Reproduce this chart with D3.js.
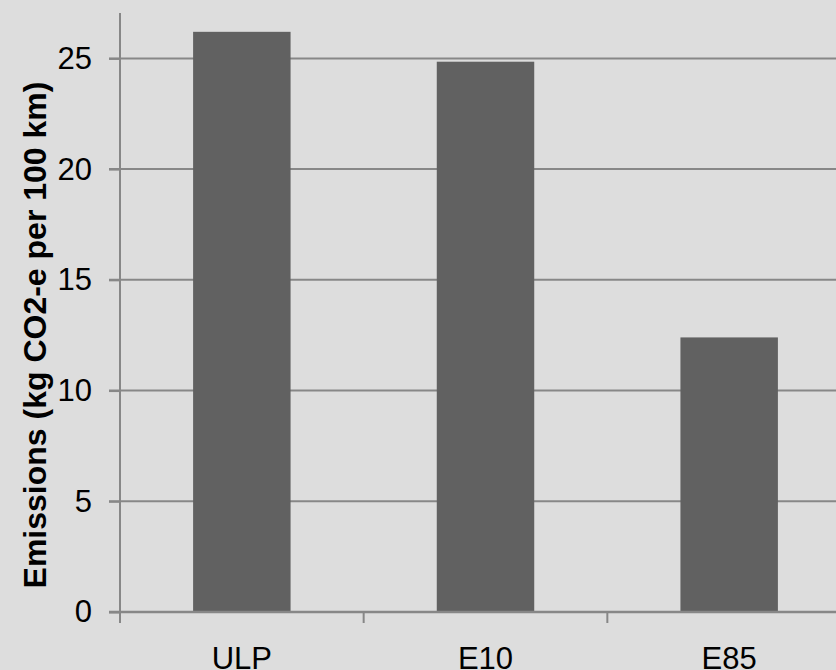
<!DOCTYPE html>
<html>
<head>
<meta charset="utf-8">
<script src="https://cdn.jsdelivr.net/npm/d3@7"></script>
<style>
  html, body { margin: 0; padding: 0; background: #dddddd; overflow: hidden; }
  svg { display: block; font-family: "Liberation Sans", Arial, sans-serif; }
</style>
</head>
<body>
<script>
const fuels = ["ULP", "E10", "E85"];
const emissions = [26.2, 24.85, 12.4];
const yTicks = [0, 5, 10, 15, 20, 25];

const width = 836, height = 670;
const svg = d3.select("body").append("svg")
  .attr("width", width)
  .attr("height", height);

svg.append("rect").attr("width", width).attr("height", height).attr("fill", "#dddddd");

const x = d3.scaleBand()
  .domain(fuels)
  .range([120, 851])
  .paddingInner(0.6)
  .paddingOuter(0.3);

const y = d3.scaleLinear().domain([0, 27.05]).range([612, 13]);

// gridlines
svg.append("g")
  .selectAll("line")
  .data(yTicks.filter(d => d > 0))
  .join("line")
  .attr("x1", 109).attr("x2", width)
  .attr("y1", d => y(d)).attr("y2", d => y(d))
  .attr("stroke", "#878787").attr("stroke-width", 2);

// bars
svg.append("g")
  .selectAll("rect")
  .data(fuels)
  .join("rect")
  .attr("x", d => x(d))
  .attr("width", x.bandwidth())
  .attr("y", (d, i) => y(emissions[i]))
  .attr("height", (d, i) => y(0) - y(emissions[i]))
  .attr("fill", "#616161");

// y axis
const yAxis = svg.append("g")
  .attr("transform", "translate(120,0)")
  .call(d3.axisLeft(y).tickValues(yTicks).tickSize(11).tickSizeOuter(0).tickPadding(17));
yAxis.select(".domain").remove();
yAxis.selectAll("line").attr("stroke", "#878787").attr("stroke-width", 2);
yAxis.selectAll("text").attr("font-size", 31).attr("fill", "#000")
  .attr("font-family", "Liberation Sans, Arial, sans-serif");

svg.append("line")
  .attr("x1", 120).attr("x2", 120)
  .attr("y1", y.range()[1]).attr("y2", 623)
  .attr("stroke", "#878787").attr("stroke-width", 2);

// x baseline and category boundary ticks
svg.append("line")
  .attr("x1", 109).attr("x2", width)
  .attr("y1", y(0)).attr("y2", y(0))
  .attr("stroke", "#878787").attr("stroke-width", 2.5);

const step = x.step();
svg.append("g")
  .selectAll("line")
  .data(fuels.map((d, i) => i))
  .join("line")
  .attr("x1", i => x(fuels[i]) + x.bandwidth() / 2 + step / 2)
  .attr("x2", i => x(fuels[i]) + x.bandwidth() / 2 + step / 2)
  .attr("y1", y(0)).attr("y2", 623)
  .attr("stroke", "#878787").attr("stroke-width", 2);

svg.append("g")
  .selectAll("text")
  .data(fuels)
  .join("text")
  .attr("x", d => x(d) + x.bandwidth() / 2)
  .attr("y", 669)
  .attr("text-anchor", "middle")
  .attr("font-size", 31)
  .text(d => d);

// y title
svg.append("text")
  .attr("transform", "translate(46,335) rotate(-90)")
  .attr("text-anchor", "middle")
  .attr("font-size", 32)
  .attr("font-weight", "bold")
  .text("Emissions (kg CO2-e per 100 km)");
</script>
</body>
</html>
